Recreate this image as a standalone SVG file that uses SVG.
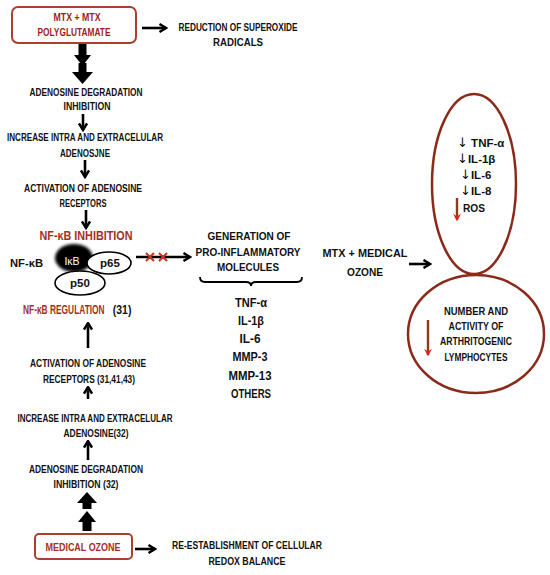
<svg xmlns="http://www.w3.org/2000/svg" width="550" height="575" viewBox="0 0 550 575">
<defs>
<style>
.t{font-family:"Liberation Sans",Arial,sans-serif;font-weight:bold;font-size:11.5px;text-anchor:middle;fill:#111}
.s{text-anchor:start}
.r{fill:#a3301f}
.mr{fill:#9e1c1c}
.big{font-size:12.5px}
.dn{font-family:"DejaVu Sans",sans-serif;font-weight:normal;font-size:13px}
.box{fill:#fff;stroke:#a5432e;stroke-width:2}
.ell{fill:none;stroke:#8b2a1a;stroke-width:2.5}
.ar{stroke:#000;stroke-width:2.6;fill:none;marker-end:url(#ch)}
.cell{fill:#fff;stroke:#000;stroke-width:1.6}
.x{stroke:#c8321e;stroke-width:2}
</style>
<marker id="ch" viewBox="0 0 10 10" refX="8.5" refY="5" markerUnits="userSpaceOnUse" markerWidth="10" markerHeight="10" orient="auto">
<path d="M2,1 L8.5,5 L2,9" fill="none" stroke="#000" stroke-width="2.4"/>
</marker>
<marker id="rh" viewBox="0 0 10 10" refX="5" refY="8" markerUnits="userSpaceOnUse" markerWidth="9" markerHeight="9" orient="0">
<path d="M0.5,1 L5,9.5 L9.5,1 L5,4 Z" fill="#e0201a"/>
</marker>
<filter id="blur" x="-30%" y="-30%" width="160%" height="160%"><feGaussianBlur stdDeviation="1.5"/></filter>
</defs>
<rect width="550" height="575" fill="#fff"/>

<g id="connectors">
<line class="ar" x1="142" y1="28" x2="166" y2="28"/>
<polygon points="78.5,44 86.5,44 86.5,55 91,55 82.5,66 74,55 78.5,55" fill="#000"/>
<polygon points="78.5,63 86.5,63 86.5,72 93,72 82.5,84 72,72 78.5,72" fill="#000"/>
<line class="ar" x1="83" y1="114" x2="83" y2="130"/>
<line class="ar" x1="85" y1="160" x2="85" y2="177"/>
<line class="ar" x1="86" y1="210" x2="86" y2="228"/>
<line class="ar" x1="136" y1="257" x2="190" y2="257"/>
<path class="x" d="M146,253 L154,261 M154,253 L146,261 M159,253 L167,261 M167,253 L159,261"/>
<path d="M200,277 Q200,282 205,282 L246,282 Q251,282 251,286 Q251,282 256,282 L297,282 Q302,282 302,277" fill="none" stroke="#000" stroke-width="1.8"/>
<line class="ar" x1="409" y1="264" x2="430" y2="264"/>
<line class="ar" x1="88" y1="348" x2="88" y2="323"/>
<line class="ar" x1="88" y1="399" x2="88" y2="387"/>
<line class="ar" x1="88" y1="460" x2="88" y2="441"/>
<polygon points="82.5,509 91.5,509 91.5,503 97,503 87,492 77,503 82.5,503" fill="#000"/>
<polygon points="82.5,531 91.5,531 91.5,522 96,522 87,511 78,522 82.5,522" fill="#000"/>
<line class="ar" x1="135" y1="549" x2="155" y2="549"/>
</g>

<g id="n-mtx">
<rect class="box" x="12" y="7" width="124" height="36" rx="6"/>
<text class="t mr" x="77" y="21" font-size="10.5" textLength="47" lengthAdjust="spacingAndGlyphs">MTX + MTX</text>
<text class="t mr" x="74" y="36" textLength="73" lengthAdjust="spacingAndGlyphs">POLYGLUTAMATE</text>
</g>

<g id="n-superoxide">
<text class="t" x="238" y="31" textLength="119" lengthAdjust="spacingAndGlyphs">REDUCTION OF SUPEROXIDE</text>
<text class="t" x="238" y="46" textLength="50" lengthAdjust="spacingAndGlyphs">RADICALS</text>
</g>

<g id="n-deg1">
<text class="t" x="86" y="96" textLength="113" lengthAdjust="spacingAndGlyphs">ADENOSINE DEGRADATION</text>
<text class="t" x="87" y="110" textLength="47" lengthAdjust="spacingAndGlyphs">INHIBITION</text>
</g>

<g id="n-inc1">
<text class="t" x="85" y="141" textLength="156" lengthAdjust="spacingAndGlyphs">INCREASE  INTRA AND EXTRACELULAR</text>
<text class="t" x="85" y="157" textLength="50" lengthAdjust="spacingAndGlyphs">ADENOSJNE</text>
</g>

<g id="n-act1">
<text class="t" x="83" y="192" textLength="118" lengthAdjust="spacingAndGlyphs">ACTIVATION  OF ADENOSINE</text>
<text class="t" x="83" y="207" textLength="47" lengthAdjust="spacingAndGlyphs">RECEPTORS</text>
</g>

<g id="n-nfkb">
<text class="t r big" x="86" y="240" textLength="93" lengthAdjust="spacingAndGlyphs">NF-κB INHIBITION</text>
<text class="t s" x="10" y="267" font-size="12" textLength="33" lengthAdjust="spacingAndGlyphs">NF-κB</text>
<ellipse cx="74" cy="258" rx="19" ry="14" fill="#000" filter="url(#blur)"/>
<text x="72" y="265" font-family="Liberation Sans, Arial, sans-serif" font-size="10.5" fill="#ffffff" text-anchor="middle">IκB</text>
<ellipse class="cell" cx="109" cy="263" rx="22" ry="11"/>
<text class="t" x="110" y="267" font-size="12">p65</text>
<ellipse class="cell" cx="80" cy="283" rx="25" ry="12"/>
<text class="t" x="80" y="287" font-size="11">p50</text>
<g transform="translate(23,314) scale(0.67,1)">
<text class="t s r big" x="0" y="0">NF-κB  REGULATION</text>
<text class="t s big" x="134" y="0" transform="translate(134,0) scale(1.25,1) translate(-134,0)">(31)</text>
</g>
</g>

<g id="n-generation">
<text class="t" x="249" y="240" font-size="12" textLength="83" lengthAdjust="spacingAndGlyphs">GENERATION OF</text>
<text class="t" x="248" y="256" font-size="12" textLength="105" lengthAdjust="spacingAndGlyphs">PRO-INFLAMMATORY</text>
<text class="t" x="248" y="271" font-size="12" textLength="62" lengthAdjust="spacingAndGlyphs">MOLECULES</text>
</g>

<g id="n-list">
<text class="t big" x="251" y="307" textLength="32" lengthAdjust="spacingAndGlyphs">TNF-α</text>
<text class="t big" x="251" y="325" textLength="26" lengthAdjust="spacingAndGlyphs">IL-1β</text>
<text class="t big" x="250" y="343" textLength="21" lengthAdjust="spacingAndGlyphs">IL-6</text>
<text class="t big" x="250" y="361" textLength="35" lengthAdjust="spacingAndGlyphs">MMP-3</text>
<text class="t big" x="250" y="380" textLength="43" lengthAdjust="spacingAndGlyphs">MMP-13</text>
<text class="t big" x="251" y="398" textLength="40" lengthAdjust="spacingAndGlyphs">OTHERS</text>
</g>

<g id="n-mtxozone">
<text class="t" x="365" y="257" font-size="12" textLength="85" lengthAdjust="spacingAndGlyphs">MTX + MEDICAL</text>
<text class="t" x="365" y="276" font-size="12" textLength="36" lengthAdjust="spacingAndGlyphs">OZONE</text>
</g>

<g id="n-cytokines">
<ellipse class="ell" cx="474" cy="184" rx="42" ry="90"/>
<text class="t s" x="457" y="147" font-size="12"><tspan class="dn">↓</tspan> TNF-α</text>
<text class="t s" x="457" y="163" font-size="12"><tspan class="dn">↓</tspan>IL-1β</text>
<text class="t s" x="460" y="179" font-size="12"><tspan class="dn">↓</tspan>IL-6</text>
<text class="t s" x="460" y="195" font-size="12"><tspan class="dn">↓</tspan>IL-8</text>
<text class="t s" x="463" y="212" font-size="12" textLength="22" lengthAdjust="spacingAndGlyphs">ROS</text>
<line x1="457" y1="198" x2="457" y2="220" stroke="#8b3a1a" stroke-width="2.4" marker-end="url(#rh)"/>
</g>

<g id="n-lymph">
<ellipse class="ell" cx="476" cy="334" rx="68" ry="59"/>
<text class="t" x="476" y="315" textLength="64" lengthAdjust="spacingAndGlyphs">NUMBER AND</text>
<text class="t" x="476" y="330" textLength="55" lengthAdjust="spacingAndGlyphs">ACTIVITY OF</text>
<text class="t" x="476" y="345" textLength="72" lengthAdjust="spacingAndGlyphs">ARTHRITOGENIC</text>
<text class="t" x="476" y="361" textLength="63" lengthAdjust="spacingAndGlyphs">LYMPHOCYTES</text>
<line x1="428" y1="320" x2="428" y2="355" stroke="#8b3a1a" stroke-width="2.4" marker-end="url(#rh)"/>
</g>

<g id="n-act2">
<text class="t" x="88" y="367" textLength="116" lengthAdjust="spacingAndGlyphs">ACTIVATION OF ADENOSINE</text>
<text class="t" x="89" y="383" textLength="92" lengthAdjust="spacingAndGlyphs">RECEPTORS (31,41,43)</text>
</g>

<g id="n-inc2">
<text class="t" x="95" y="422" textLength="155" lengthAdjust="spacingAndGlyphs">INCREASE INTRA AND EXTRACELULAR</text>
<text class="t" x="96" y="437" textLength="65" lengthAdjust="spacingAndGlyphs">ADENOSINE(32)</text>
</g>

<g id="n-deg2">
<text class="t" x="86" y="473" textLength="114" lengthAdjust="spacingAndGlyphs">ADENOSINE DEGRADATION</text>
<text class="t" x="86" y="488" textLength="65" lengthAdjust="spacingAndGlyphs">INHIBITION (32)</text>
</g>

<g id="n-ozone">
<rect class="box" x="35" y="534" width="97" height="25" rx="4"/>
<text class="t r" x="83" y="551" font-size="12" textLength="75" lengthAdjust="spacingAndGlyphs">MEDICAL OZONE</text>
</g>

<g id="n-redox">
<text class="t" x="247" y="549" textLength="150" lengthAdjust="spacingAndGlyphs">RE-ESTABLISHMENT OF CELLULAR</text>
<text class="t" x="247" y="565" textLength="77" lengthAdjust="spacingAndGlyphs">REDOX  BALANCE</text>
</g>
</svg>
